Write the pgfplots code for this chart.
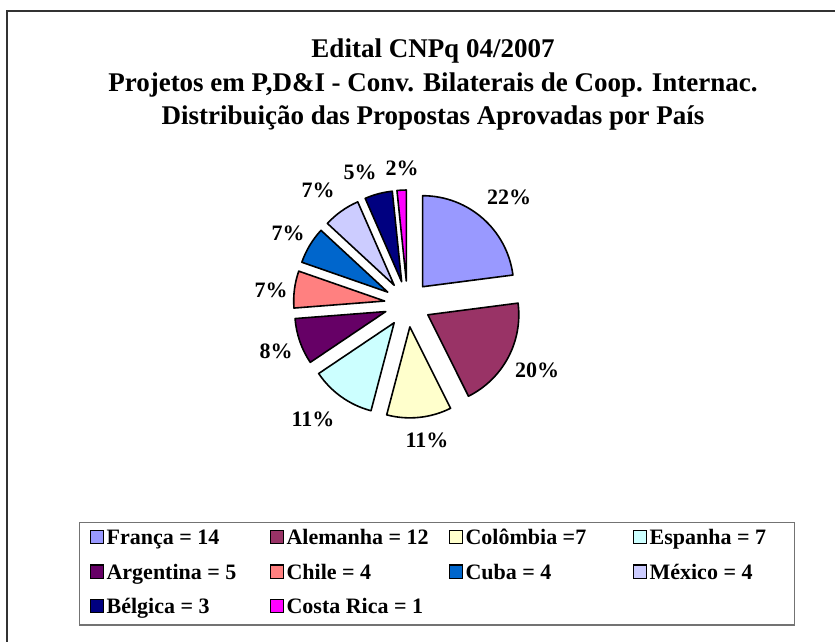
\documentclass[border=0pt]{standalone}
\usepackage{pgfplots}
\pgfplotsset{compat=1.18}
\usepackage{fontspec}
\setmainfont{Liberation Serif}

\definecolor{cFr}{HTML}{9999FF}
\definecolor{cAl}{HTML}{993366}
\definecolor{cCo}{HTML}{FFFFCC}
\definecolor{cEs}{HTML}{CCFFFF}
\definecolor{cAr}{HTML}{660066}
\definecolor{cCh}{HTML}{FF8080}
\definecolor{cCu}{HTML}{0066CC}
\definecolor{cMx}{HTML}{CCCCFF}
\definecolor{cBe}{HTML}{000080}
\definecolor{cCR}{HTML}{FF00FF}

\newcommand\titlefont{\fontsize{27}{33}\selectfont\bfseries}
\newcommand\labfont{\fontsize{22}{24}\selectfont\bfseries}
\def\total{61}

\begin{document}
\begin{tikzpicture}
\begin{axis}[
    width=835pt, height=642pt, scale only axis,
    xmin=0, xmax=835, ymin=0, ymax=642,
    hide axis, clip=false,
    legend columns=4,
    legend image code/.code={
        \path[draw=none, fill=none] (0pt,0pt) -- (17pt,0pt);
        \draw[#1, draw=black, line width=1.3pt] (0.7pt,-4.5pt) rectangle (14pt,8.8pt);
    },
    legend style={
        at={(axis description cs:0.0946,0.187)}, anchor=north west,
        draw=black!55, line width=1.2pt,
        font=\fontsize{22}{25}\selectfont\bfseries,
        nodes={inner sep=0pt, text height=15pt, text depth=4.5pt},
        row sep=15pt, column sep=0pt,
        inner xsep=10pt, inner ysep=7pt,
    },
]
\addlegendimage{fill=cFr}\addlegendentry{\makebox[163pt][l]{França = 14}}
\addlegendimage{fill=cAl}\addlegendentry{\makebox[162pt][l]{Alemanha = 12}}
\addlegendimage{fill=cCo}\addlegendentry{\makebox[167pt][l]{Colômbia =7}}
\addlegendimage{fill=cEs}\addlegendentry{\makebox[135pt][l]{Espanha = 7}}
\addlegendimage{fill=cAr}\addlegendentry{\makebox[163pt][l]{Argentina = 5}}
\addlegendimage{fill=cCh}\addlegendentry{\makebox[162pt][l]{Chile = 4}}
\addlegendimage{fill=cCu}\addlegendentry{\makebox[167pt][l]{Cuba = 4}}
\addlegendimage{fill=cMx}\addlegendentry{\makebox[135pt][l]{México = 4}}
\addlegendimage{fill=cBe}\addlegendentry{\makebox[163pt][l]{Bélgica = 3}}
\addlegendimage{fill=cCR}\addlegendentry{\makebox[162pt][l]{Costa Rica = 1}}

\coordinate (LL) at (axis cs:0,0);
\coordinate (UR) at (axis cs:835,642);
\coordinate (C) at (axis cs:407.5,338);

% chart area frame (right and bottom edges fall outside the picture)
\draw[black!80, line width=1.5pt] (axis cs:7,0) -- (axis cs:7,631) -- (axis cs:835,631);

\node[anchor=base, font=\titlefont] at (axis cs:433,584) {Edital CNPq 04/2007};
\node[anchor=base, font=\titlefont] at (axis cs:433,550.3) {Projetos em P,D\&I - Conv. Bilaterais de Coop. Internac.};
\node[anchor=base, font=\titlefont] at (axis cs:433,517) {Distribuição das Propostas Aprovadas por País};
\end{axis}

% exploded pie: value / colour / label / label position (x, y from top)
\begin{scope}[shift={(LL)}, x=1pt, y=1pt]
\foreach \v/\col/\lab/\lx/\ly [remember=\e as \s (initially 90)] in {
    14/cFr/22/509/197, 12/cAl/20/537/370, 7/cCo/11/427/440, 7/cEs/11/313/419,
    5/cAr/8/276/351, 4/cCh/7/271/290, 4/cCu/7/288/233, 4/cMx/7/318/190,
    3/cBe/5/360/172, 1/cCR/2/402/168} {
    \pgfmathsetmacro{\e}{\s-\v*360/\total}
    \pgfmathsetmacro{\m}{(\s+\e)/2}
    \draw[fill=\col, line width=1.6pt, line join=round]
        (C) ++(\m:23pt) -- ++(\s:91pt) arc[start angle=\s, end angle=\e, radius=91pt] -- cycle;
    \node[font=\labfont, inner sep=0pt] at (\lx,{642-\ly}) {\lab\%};
}
\end{scope}

\pgfresetboundingbox
\useasboundingbox (LL) rectangle (UR);
\end{tikzpicture}
\end{document}
